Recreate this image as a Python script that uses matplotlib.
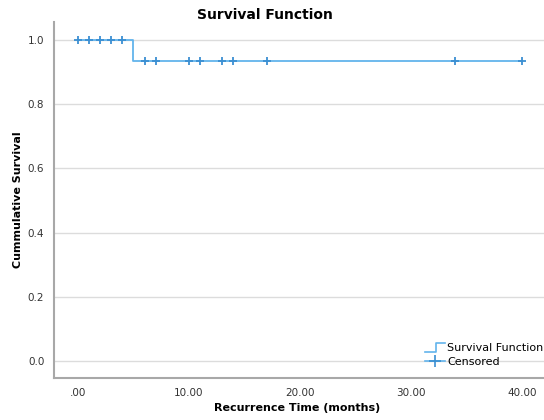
import numpy as np
import matplotlib.pyplot as plt
from matplotlib.lines import Line2D
from matplotlib.legend_handler import HandlerBase

# Survival step data
step_times = [0, 5, 5, 40]
step_surv = [1.0, 1.0, 0.936, 0.936]

# Censored observations
cens_times = [0, 1, 2, 3, 4, 6, 7, 10, 11, 13, 14, 17, 34, 40]
cens_surv = [1.0, 1.0, 1.0, 1.0, 1.0, 0.936, 0.936, 0.936, 0.936, 0.936, 0.936, 0.936, 0.936, 0.936]

xticks = [0, 10, 20, 30, 40]
xtick_labels = ['.00', '10.00', '20.00', '30.00', '40.00']
yticks = [0.0, 0.2, 0.4, 0.6, 0.8, 1.0]
ytick_labels = ['0.0', '0.2', '0.4', '0.6', '0.8', '1.0']

line_col = '#62b4ec'
mark_col = '#3b8fd2'


# legend icon drawn as a little step
class StepHandler(HandlerBase):
    def create_artists(self, legend, orig, xd, yd, w, h, fontsize, trans):
        x0, x1 = -xd, -xd + w
        y0, y1 = -yd - h * 0.1, -yd + h * 1.05
        xs = [x0, x0 + w * 0.55, x0 + w * 0.55, x1]
        ys = [y0, y0, y1, y1]
        ln = Line2D(xs, ys, color=line_col, lw=1.2, transform=trans)
        return [ln]


fig = plt.figure(figsize=(5.44, 4.2), dpi=100)
ax = fig.add_axes([54 / 544, 42 / 420, 490 / 544, 356 / 420])

ax.plot(step_times, step_surv, color=line_col, lw=1.3)
ax.plot(cens_times, cens_surv, ls='none', marker='+', ms=5.5, mew=1.3, color=mark_col)

ax.set_xlim(-2.16, 41.98)
ax.set_ylim(-0.053, 1.056)
ax.set_xticks(xticks)
ax.set_xticklabels(xtick_labels)
ax.set_yticks(yticks)
ax.set_yticklabels(ytick_labels)
ax.tick_params(length=0, labelsize=7.5, colors='#333333', pad=7)
ax.yaxis.grid(True, color='#dcdcdc', lw=1)
ax.set_axisbelow(True)

for s in ['top', 'right']:
    ax.spines[s].set_visible(False)
for s in ['left', 'bottom']:
    ax.spines[s].set_color('#a8a8a8')
    ax.spines[s].set_linewidth(1.5)

fig.text(297 / 544, 1 - 408 / 420, 'Recurrence Time (months)', ha='center', va='center',
         fontsize=8, fontweight='bold')
fig.text(18 / 544, 1 - 200 / 420, 'Cummulative Survival', ha='center', va='center',
         rotation=90, fontsize=8, fontweight='bold')
fig.text(265 / 544, 1 - 15 / 420, 'Survival Function', ha='center', va='center',
         fontsize=10, fontweight='bold')

handles = [Line2D([0], [0], color=line_col, lw=1.2),
           Line2D([0], [0], color=line_col, lw=1.2, marker='+', ms=8, mew=1.2,
                  markeredgecolor=mark_col)]
leg = ax.legend(handles, ['Survival Function', 'Censored'], loc='lower right',
                bbox_to_anchor=(1.015, 0.01), frameon=False, fontsize=8,
                handlelength=1.8, handletextpad=0.2, labelspacing=0.35,
                borderaxespad=0.3, handler_map={handles[0]: StepHandler()})

fig.savefig('out.png', dpi=100)
